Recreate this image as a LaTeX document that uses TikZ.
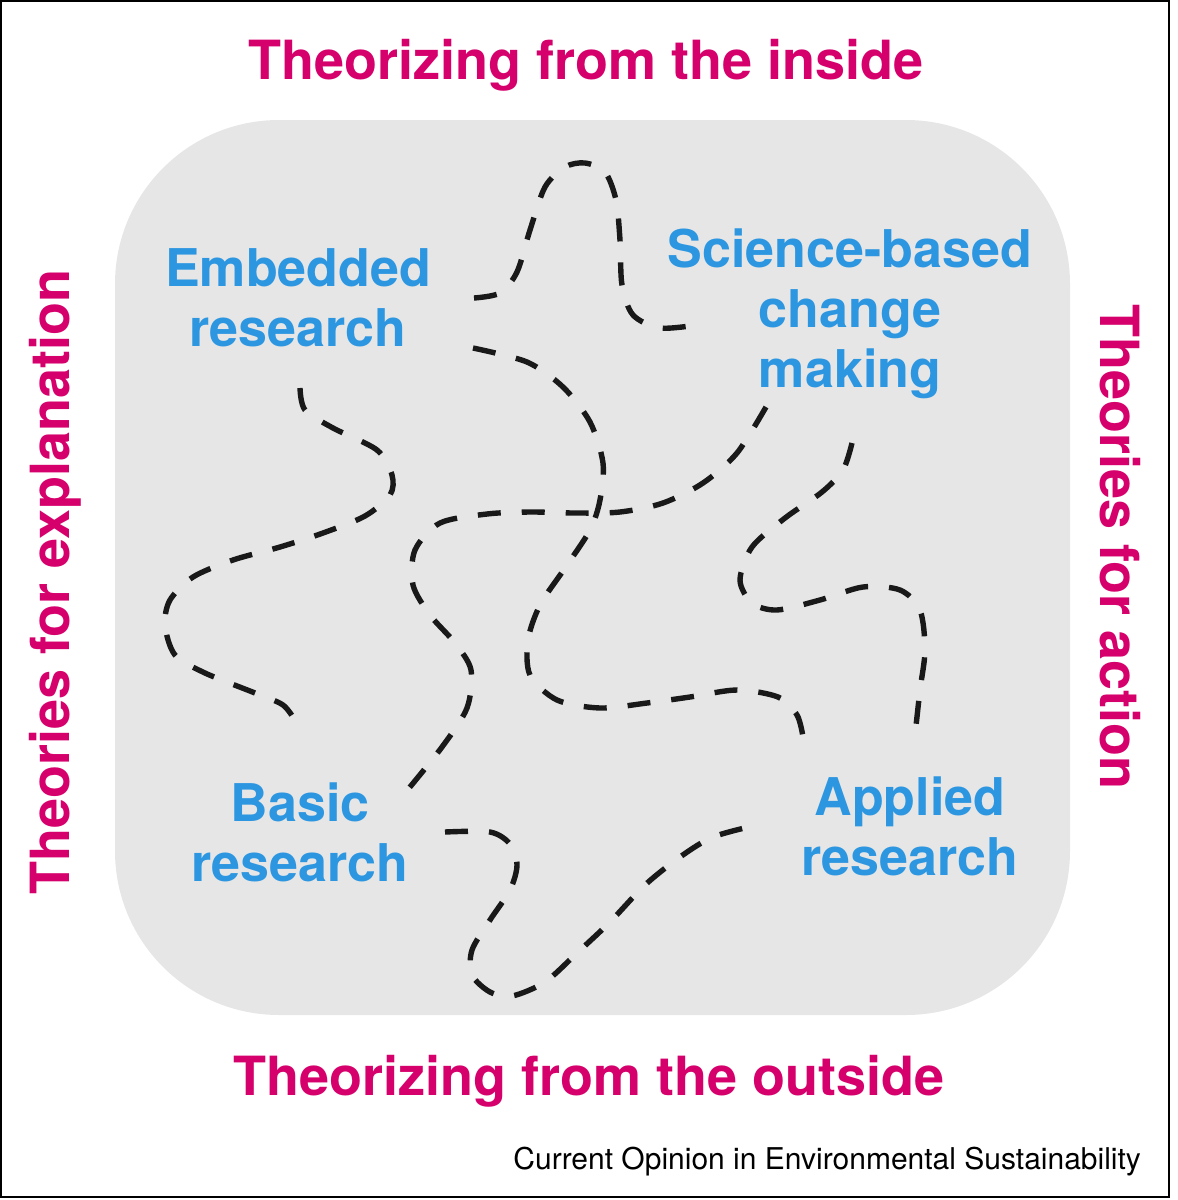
\documentclass[tikz,border=0pt]{standalone}
\usepackage{fontspec}
\setmainfont{TeX Gyre Heros}
\usetikzlibrary{positioning}
\definecolor{axispink}{RGB}{214,0,108}
\definecolor{fieldblue}{RGB}{45,150,225}
\definecolor{panelgray}{RGB}{230,230,230}
\tikzset{
  axis/.style={text=axispink, font=\fontsize{27}{32}\selectfont\bfseries},
  field/.style={text=fieldblue, align=center, font=\fontsize{26}{30}\selectfont\bfseries},
  trail/.style={draw=black!90, line width=2.7pt, dash pattern=on 11.5pt off 10.5pt}
}

\begin{document}
\begin{tikzpicture}[
                      x=0.5pt, y=-0.5pt
                  ]
                  \useasboundingbox (0,0) rectangle (1178,1200);
                  \draw[line width=1.3pt] (1,1) rectangle (1169,1197);
                  \fill[panelgray, rounded corners=82pt] (115,120) rectangle (1070,1015);
                  % the four poles
                  \node[axis, anchor=base] at (586,79) (inside) {Theorizing from the inside};
                  \node[axis, anchor=base] at (589,1095) (outside) {Theorizing from the outside};
                  \node[axis, rotate=90] at (55,582) (expl) {Theories for explanation};
                  \node[axis, rotate=-90] at (1120,547) (action) {Theories for action};
                  % the four kinds of research
                  \node[field] at (298,298) (embedded) {Embedded\\research};
                  \node[field] at (850,314) (change) {Science-based\\change\\making};
                  \node[field] at (300,832) (basic) {Basic\\research};
                  \node[field] at (910,826) (applied) {Applied\\research};
                  % dashed trails
                  \draw[trail] plot[smooth] coordinates {(474,298) (500,293) (517,272) (530,230) (545,187) (565,167) (585,163) (605,172) (616,200) (620,240) (622,285) (633,315) (660,328) (697,325)};
                  \draw[trail] plot[smooth] coordinates {(473,348) (527,362) (563,387) (590,422) (603,463) (600,500) (590,530) (565,568) (540,605) (528,640) (530,675) (557,700) (600,708) (647,703) (690,697) (737,690) (778,697) (797,715) (803,737)};
                  \draw[trail] plot[smooth] coordinates {(300,388) (305,410) (333,428) (377,450) (392,475) (390,495) (365,516) (323,533) (280,547) (233,560) (193,577) (170,600) (165,625) (175,655) (205,673) (255,693) (283,705) (296,722)};
                  \draw[trail] plot[smooth] coordinates {(766,407) (737,453) (703,483) (663,503) (620,512) (575,513) (530,512) (487,514) (440,523) (415,550) (413,585) (430,615) (455,643) (471,670) (467,708) (442,747) (405,793)};
                  \draw[trail] plot[smooth] coordinates {(852,443) (843,470) (822,492) (785,518) (752,547) (740,580) (752,603) (777,610) (820,600) (863,587) (900,590) (920,610) (925,650) (920,690) (915,735)};
                  \draw[trail] plot[smooth] coordinates {(445,832) (490,832) (510,844) (517,865) (510,890) (490,920) (472,950) (472,975) (490,992) (512,996) (545,982) (577,953) (610,922) (645,885) (680,857) (713,837) (757,825)};
                  \node[anchor=base east, font=\fontsize{15}{18}\selectfont] at (1148,1169) (journal) {Current Opinion in Environmental Sustainability};
              \end{tikzpicture}
\end{document}
